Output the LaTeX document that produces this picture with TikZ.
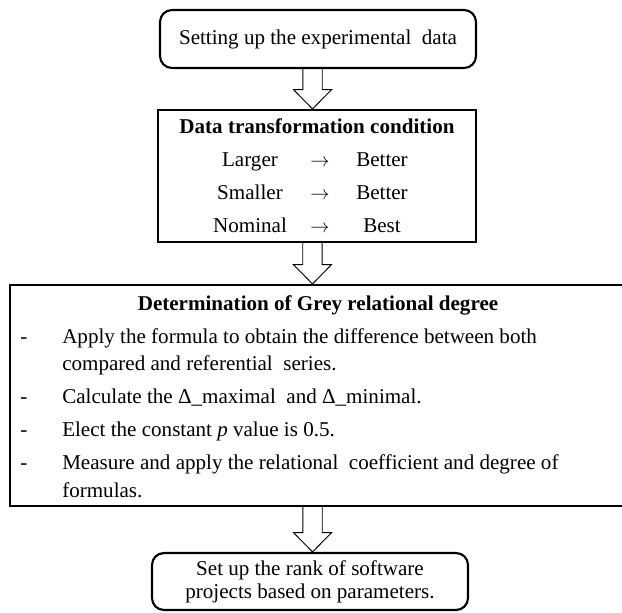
\documentclass[tikz,border=0pt]{standalone}
\usepackage{fontspec}
\setmainfont{Liberation Serif}
\usetikzlibrary{matrix,calc}

\tikzset{
  stepbox/.style={draw, line width=1.6pt, rounded corners=9pt, align=center,
                  inner sep=0pt, minimum width=237pt, minimum height=43.5pt},
  plainbox/.style={draw, line width=1.6pt, inner sep=0pt},
  hollow/.style={draw, line width=0.7pt, line join=miter,
    to path={let \p1=(\tikztostart), \p2=(\tikztotarget) in
      (\x1-7.3pt,\y1) -- (\x1-7.3pt,\y2+14.5pt) -- (\x1-14.25pt,\y2+14.5pt)
      -- (\x1,\y2) -- (\x1+14.25pt,\y2+14.5pt) -- (\x1+7.3pt,\y2+14.5pt)
      -- (\x1+7.3pt,\y1)}},
  line/.style={anchor=base west, inner sep=0pt},
  dashmark/.style={anchor=base, inner sep=0pt},
}

\begin{document}
\begin{tikzpicture}[x=0.75pt, y=-0.75pt, font=\fontsize{15.8}{20.5}\selectfont]
    \useasboundingbox (0,0) rectangle (622,612);

    % boxes
    \node[stepbox] (setup) at (318,39) {Setting up the experimental\ \ data};
    \node[plainbox, minimum width=238.5pt, minimum height=99pt] (cond) at (317,176) {};
    \node[plainbox, minimum width=462pt, minimum height=165.75pt] (grey) at (318,395.5) {};
    \node[stepbox, minimum height=42.75pt,
          font=\fontsize{15.8}{17.5}\selectfont] (rank) at (310,581.5)
          {Set up the rank of software\\projects based on parameters.};

    % data transformation condition
    \node[anchor=base, inner sep=0pt, font=\fontsize{15.8}{20.5}\selectfont\bfseries]
          (condtitle) at (317,133) {Data transformation condition};
    \matrix (rules) [matrix of nodes,
            ampersand replacement=\&,
            inner sep=0pt,
            nodes={inner sep=0pt, align=center, text height=11pt, text depth=3pt},
            column 1/.style={nodes={text width=90pt}},
            column 2/.style={nodes={text width=15pt}},
            column 3/.style={nodes={text width=78pt}},
            row sep=10.75pt, column sep=0pt] at (312,194.2) {
      Larger  \& $\rightarrow$ \& Better \\
      Smaller \& $\rightarrow$ \& Better \\
      Nominal \& $\rightarrow$ \& Best   \\
    };

    % grey relational degree
    \node[anchor=base, inner sep=0pt, font=\fontsize{15.8}{20.5}\selectfont\bfseries]
          (greytitle) at (318,310) {Determination of Grey relational degree};
    \node[dashmark] (d1) at (24,343) {-};
    \node[line] (l1a) at (62,343) {Apply the formula to obtain the difference between both};
    \node[line] (l1b) at (62,370) {compared and referential\ \ series.};
    \node[dashmark] (d2) at (24,403) {-};
    \node[line] (l2) at (62,403) {Calculate the Δ\_maximal\ \ and Δ\_minimal.};
    \node[dashmark] (d3) at (24,436) {-};
    \node[line] (l3) at (62,436) {Elect the constant \textit{p} value\ is 0.5.};
    \node[dashmark] (d4) at (24,469) {-};
    \node[line] (l4a) at (62,469) {Measure and apply the relational\ \ coefficient and degree of};
    \node[line] (l4b) at (62,497) {formulas.};

    % block arrows
    \draw[hollow] ([xshift=-4.1pt]setup.south) to (cond.north);
    \draw[hollow] ([xshift=-3.4pt]cond.south) to (grey.north);
    \draw[hollow] ([xshift=-4.1pt]grey.south) to (rank.north);
\end{tikzpicture}
\end{document}
